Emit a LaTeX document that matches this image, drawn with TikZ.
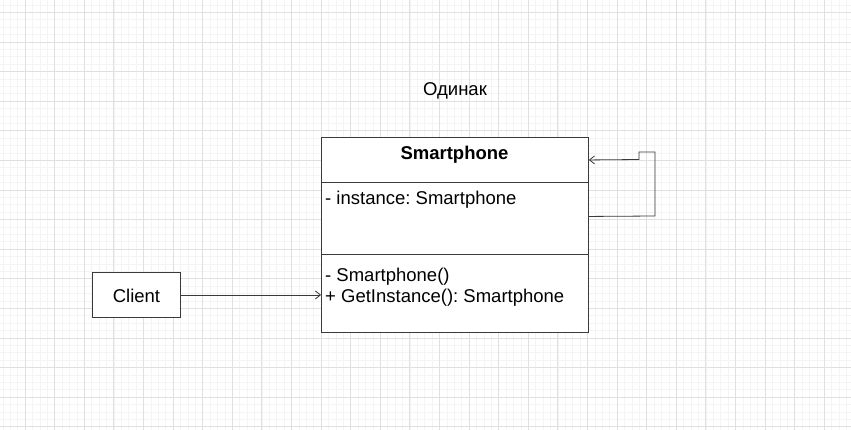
\documentclass[tikz,border=0pt]{standalone}
\usepackage{fontspec}
\setmainfont{Liberation Sans}
\usetikzlibrary{arrows.meta}
\definecolor{gridminor}{HTML}{F4F4F4}
\definecolor{gridmajor}{HTML}{E0E0E0}
\definecolor{linecol}{HTML}{3A3A3A}
\tikzset{
  box/.style={draw=linecol, line width=0.9pt, fill=white, inner sep=0pt, anchor=north west},
  conn/.style={draw=linecol, line width=0.8pt},
  opentip/.style={-{Straight Barb[length=5pt,width=8pt,line width=0.8pt]}},
  label/.style={font=\fontsize{18.5}{20}\selectfont, inner sep=0pt, text=black},
}
\frenchspacing
\begin{document}
\begin{tikzpicture}[x=1pt,y=-1pt]
\useasboundingbox (0,0) rectangle (851,430);
\fill[white] (0,0) rectangle (851,430);
% grid
\foreach \i in {0,...,115} {
  \draw[gridminor, line width=0.6pt] ({2.8+7.4*\i},0) -- ({2.8+7.4*\i},430);
}
\foreach \i in {0,...,58} {
  \draw[gridminor, line width=0.6pt] (0,{4.9+7.4*\i}) -- (851,{4.9+7.4*\i});
}
\foreach \i in {-1,...,28} {
  \draw[gridmajor, line width=0.7pt] ({25+29.6*\i},0) -- ({25+29.6*\i},430);
}
\foreach \i in {0,...,14} {
  \draw[gridmajor, line width=0.7pt] (0,{12.3+29.6*\i}) -- (851,{12.3+29.6*\i});
}
% title
\node[label, anchor=base] (title) at (455,95.5) {Одинак};
% class boxes
\node[box, minimum width=267pt, minimum height=45pt] (header) at (321,137) {};
\node[box, minimum width=267pt, minimum height=72pt] (attr) at (321,182) {};
\node[box, minimum width=267pt, minimum height=78pt] (methods) at (321,254) {};
\node[label, anchor=base, font=\fontsize{18.5}{20}\selectfont\bfseries] (hname) at (454.5,160) {Smartphone};
\node[label, anchor=base west] (attr1) at (325,205) {- instance: Smartphone};
\node[label, anchor=base west] (meth1) at (325,281.5) {- Smartphone()};
\node[label, anchor=base west] (meth2) at (325,302.3) {+ GetInstance(): Smartphone};
% client
\node[box, minimum width=88pt, minimum height=45pt] (client) at (92,272) {};
\node[label, anchor=base] (clientlbl) at (client.center |- 0,302) {Client};
% connectors
\draw[conn, opentip] (client.east) -- (methods.west |- client.east);
\draw[conn, opentip] ([yshift=2pt]attr.east) -- (655,216) -- (655,152) -- (639,152) -- (639,159.5) -- (header.east);
\end{tikzpicture}
\end{document}
